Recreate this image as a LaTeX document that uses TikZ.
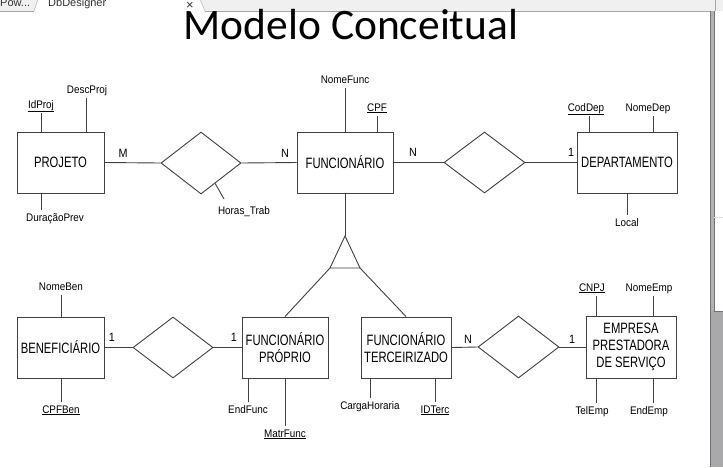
\documentclass[tikz,border=0pt]{standalone}
\usepackage{fontspec}
\setmainfont{Liberation Sans}
\newfontfamily\boxfont[FakeStretch=0.75]{Liberation Sans}
\newfontfamily\attrfont[FakeStretch=0.9]{Liberation Sans}
\newfontfamily\titlefont{Carlito}
\usetikzlibrary{shapes.geometric,calc}
\definecolor{tabgray}{HTML}{F0F0F0}
\definecolor{sbgray}{HTML}{A9A8AA}
\begin{document}
\begin{tikzpicture}[x=1pt,y=-1pt,
 conn/.style={draw=black!75, line width=0.9pt},
 entity/.style={conn, rectangle, inner sep=0pt, align=center, font=\boxfont\fontsize{15}{17}\selectfont, text=black},
 rel/.style={conn, diamond, inner sep=0pt},
 attr/.style={font=\attrfont\fontsize{11}{13}\selectfont, text=black, inner xsep=1pt, inner ysep=3pt, text height=8pt, text depth=2pt},
 card/.style={font=\attrfont\fontsize{12}{14}\selectfont, text=black, inner sep=0pt},
 tabtext/.style={font=\fontsize{11}{12}\selectfont, text=black!80, anchor=base west, inner sep=0pt},
]
\useasboundingbox (0,0) rectangle (723,467);
\fill[white] (0,0) rectangle (723,467);

% --- browser tab bar
\begin{scope}
\clip (0,0) rectangle (723,11);
\fill[tabgray] (0,0) rectangle (723,11);
\filldraw[fill=white, draw=gray!70] (34,11) -- (38,-1) -- (200,-1) -- (205,11);
\node[tabtext] (tabone) at (0,6) {Pow...};
\node[tabtext] (tabtwo) at (48,6) {DbDesigner};
\node[tabtext, font=\fontsize{13}{13}\selectfont] (tabx) at (186,9) {×};
\end{scope}
\draw[gray!70] (0,11) -- (34,11) (205,11) -- (710,11);
\draw[gray!70] (715,0) -- (715,11);

% --- right side window edge
\fill[gray!60] (710,11) rectangle (714,467);
\draw[black!55, line width=0.8pt] (710.5,11) -- (710.5,467);
\draw[black!55, line width=0.6pt] (714,11) -- (714,311);
\draw[gray!25] (714,217) -- (723,217);
\fill[sbgray] (710,311) rectangle (723,467);
\draw[black!55, line width=0.6pt] (714,311) -- (723,311);
\draw[black!55, line width=0.8pt] (710.5,311) -- (710.5,467);

% --- title
\node[font=\titlefont\fontsize{43.5}{43}\selectfont, anchor=base, inner sep=0pt] (title) at (351,39) {Modelo Conceitual};

% --- entities
\node[entity, minimum width=87pt, minimum height=61pt] (proj) at (60.5,162.5) {PROJETO};
\node[entity, minimum width=96pt, minimum height=61pt] (func) at (345,162.5) {FUNCIONÁRIO};
\node[entity, minimum width=100pt, minimum height=61pt] (dep) at (627,162.5) {DEPARTAMENTO};
\node[entity, minimum width=87pt, minimum height=61pt] (ben) at (60.5,347.5) {BENEFICIÁRIO};
\node[entity, minimum width=86pt, minimum height=61pt] (fp) at (285,347.5) {FUNCIONÁRIO\\PRÓPRIO};
\node[entity, minimum width=90pt, minimum height=61pt] (ft) at (406,347.5) {FUNCIONÁRIO\\TERCEIRIZADO};
\node[entity, minimum width=90pt, minimum height=62pt] (emp) at (631,347) {EMPRESA\\PRESTADORA\\DE SERVIÇO};

% --- relationships
\node[rel, minimum width=80pt, minimum height=62pt] (r1) at (201,163) {};
\node[rel, minimum width=81pt, minimum height=61pt] (r2) at (484.5,162.5) {};
\node[rel, minimum width=80pt, minimum height=61pt] (r3) at (173,347.5) {};
\node[rel, minimum width=81pt, minimum height=62pt] (r4) at (518.5,347) {};

\draw[conn] (proj.east) -- (r1.west);
\draw[conn] (r1.east) -- (func.west);
\draw[conn] (func.east) -- (r2.west);
\draw[conn] (r2.east) -- (dep.west);
\draw[conn] (ben.east) -- (r3.west);
\draw[conn] (r3.east) -- (fp.west);
\draw[conn] (ft.east) -- (r4.west);
\draw[conn] (r4.east) -- (emp.west);

% --- cardinalities
\node[card] (cm) at (123,153) {M};
\node[card] (cn1) at (285,153) {N};
\node[card] (cn2) at (413,152) {N};
\node[card] (c11) at (571,152) {1};
\node[card] (c12) at (112,337) {1};
\node[card] (c13) at (234,337) {1};
\node[card] (cn3) at (468,339) {N};
\node[card] (c14) at (572,339) {1};

% --- specialization triangle
\coordinate (tapex) at (345,236);
\coordinate (tl) at (330,268);
\coordinate (tr) at (360,268);
\draw[conn] (tapex) -- (tl) -- (tr) -- cycle;
\draw[conn] (func.south) -- (tapex);
\draw[conn] (tl) -- (fp.north);
\draw[conn] (tr) -- (ft.north);

% --- attributes: PROJETO
\node[attr] (idproj) at (41,105) {\underline{IdProj}};
\draw[conn] (idproj.south) -- (idproj.south |- proj.north);
\node[attr] (descproj) at (87,90) {DescProj};
\draw[conn] ([xshift=-1pt]descproj.south) -- ([xshift=-1pt]descproj.south |- proj.north);
\node[attr] (durprev) at (55,218) {DuraçãoPrev};
\draw[conn] (durprev.north -| idproj.south) -- (idproj.south |- proj.south);

% --- Horas_Trab
\node[attr] (horas) at (244,211) {Horas\_Trab};
\coordinate (hend) at (224,199);
\draw[conn] ($(r1.south)!0.35!(r1.east)$) -- (hend);

% --- FUNCIONARIO
\node[attr] (nomefunc) at (345,80) {NomeFunc};
\draw[conn] (nomefunc.south) -- (nomefunc.south |- func.north);
\node[attr] (cpf) at (377,108) {\underline{CPF}};
\draw[conn] (cpf.south) -- (cpf.south |- func.north);

% --- DEPARTAMENTO
\node[attr] (coddep) at (586,108) {\underline{CodDep}};
\draw[conn] ([xshift=3pt]coddep.south) -- ([xshift=3pt]coddep.south |- dep.north);
\node[attr] (nomedep) at (648,108) {NomeDep};
\draw[conn] ([xshift=5pt]nomedep.south) -- ([xshift=5pt]nomedep.south |- dep.north);
\node[attr] (local) at (627,223) {Local};
\draw[conn] (local.north) -- (local.north |- dep.south);

% --- BENEFICIARIO
\node[attr] (nomeben) at (61,287) {NomeBen};
\draw[conn] (nomeben.south) -- (nomeben.south |- ben.north);
\node[attr] (cpfben) at (61,410) {\underline{CPFBen}};
\draw[conn] (cpfben.north) -- (cpfben.north |- ben.south);

% --- FUNCIONARIO PROPRIO
\node[attr] (endfunc) at (248,410) {EndFunc};
\draw[conn] (endfunc.north) -- (endfunc.north |- fp.south);
\node[attr] (matrfunc) at (285,434) {\underline{MatrFunc}};
\draw[conn] (matrfunc.north) -- (matrfunc.north |- fp.south);

% --- FUNCIONARIO TERCEIRIZADO
\node[attr] (carga) at (370,406) {CargaHoraria};
\draw[conn] (carga.north) -- (carga.north |- ft.south);
\node[attr] (idterc) at (435,410) {\underline{IDTerc}};
\draw[conn] (idterc.north) -- (idterc.north |- ft.south);

% --- EMPRESA
\node[attr] (cnpj) at (592,288) {\underline{CNPJ}};
\draw[conn] ([xshift=4pt]cnpj.south) -- ([xshift=4pt]cnpj.south |- emp.north);
\node[attr] (nomeemp) at (649,288) {NomeEmp};
\draw[conn] ([xshift=4pt]nomeemp.south) -- ([xshift=4pt]nomeemp.south |- emp.north);
\node[attr] (telemp) at (592,411) {TelEmp};
\draw[conn] ([xshift=4pt]telemp.north) -- ([xshift=4pt]telemp.north |- emp.south);
\node[attr] (endemp) at (649,411) {EndEmp};
\draw[conn] ([xshift=4pt]endemp.north) -- ([xshift=4pt]endemp.north |- emp.south);
\end{tikzpicture}
\end{document}
